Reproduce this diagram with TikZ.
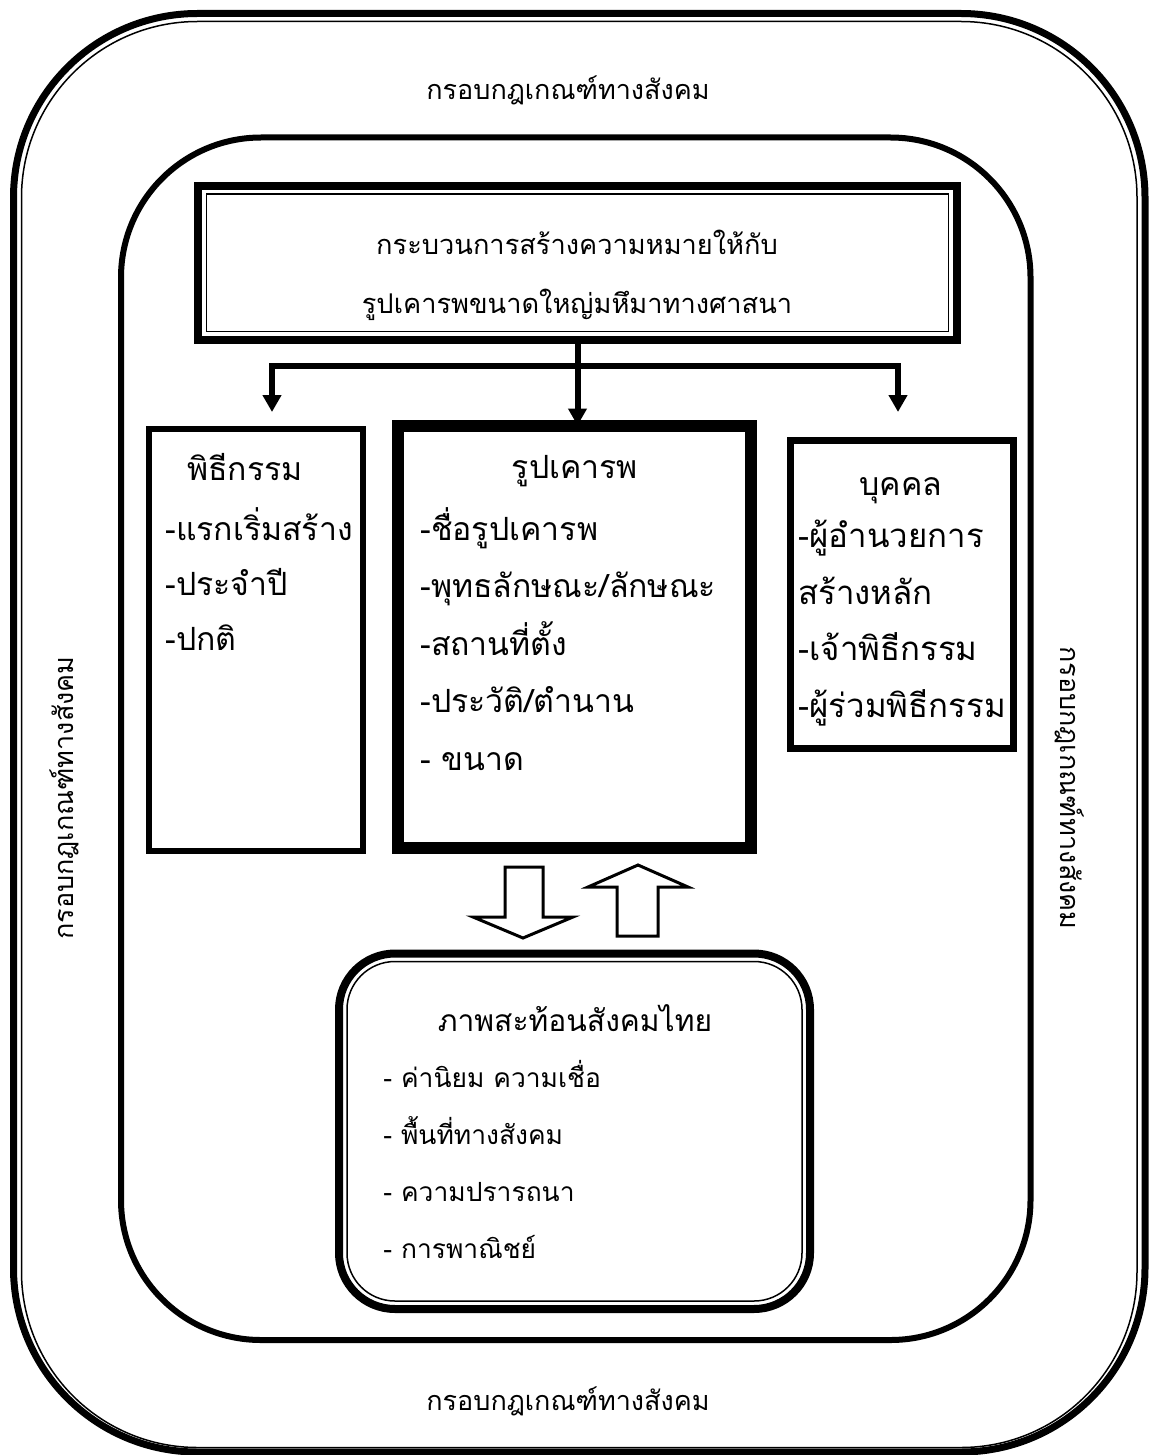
\documentclass[tikz,border=0pt]{standalone}
\usepackage{fontspec}
\setmainfont[Script=Thai]{Loma}
\usetikzlibrary{arrows.meta,positioning,calc}

\tikzset{
  box/.style={draw,line width=3pt,inner sep=0pt,outer sep=0pt},
  thinline/.style={line width=.75pt},
  link/.style={line width=3pt,-{Triangle[width=9pt,length=8.5pt]}},
  blockarrow/.style={draw,line width=1.5pt,fill=white},
  head/.style={font=\fontsize{16}{28.5}\selectfont,inner sep=0pt,anchor=base},
  framelabel/.style={font=\fontsize{13.5}{20}\selectfont,inner sep=0pt},
  list/.style={font=\fontsize{16}{28.5}\selectfont,align=left,inner sep=0pt,anchor=base west},
}

\begin{document}
\begin{tikzpicture}[x=0.5pt,y=-0.5pt]
  \useasboundingbox (0,0) rectangle (1151,1455);
  % outer frame, thick and thin
  \draw[line width=3.5pt,rounded corners=92pt] (13.5,13.5) rectangle (1145,1452);
  \draw[thinline,rounded corners=88pt] (21.5,21.5) rectangle (1137,1447.5);
  % inner frame
  \draw[line width=3pt,rounded corners=70pt] (121,137.5) rectangle (1030.5,1340);

  \node[framelabel,anchor=base] (toplabel) at (568,100) {กรอบกฎเกณฑ์ทางสังคม};
  \node[framelabel,anchor=base] (bottomlabel) at (568,1410) {กรอบกฎเกณฑ์ทางสังคม};
  \node[framelabel,rotate=90] (leftlabel) at (64,798) {กรอบกฎเกณฑ์ทางสังคม};
  \node[framelabel,rotate=-90] (rightlabel) at (1070,788) {กรอบกฎเกณฑ์ทางสังคม};

  % title box
  \node[box,line width=4pt,minimum width=379.5pt,minimum height=76.75pt] (title) at (577.5,262.75) {};
  \draw[thinline] ([shift={(8.5,8)}]title.north west) rectangle ([shift={(-8.5,-8)}]title.south east);
  \node[head,align=center,font=\fontsize{13.6}{29}\selectfont] (titletext) at (577,313) {กระบวนการสร้างความหมายให้กับ\\รูปเคารพขนาดใหญ่มหึมาทางศาสนา};

  % three boxes
  \node[box,minimum width=106.75pt,minimum height=210.75pt] (ritual) at (255.75,639.75) {};
  \node[box,line width=6pt,minimum width=176.75pt,minimum height=211.25pt] (image) at (574.25,636.75) {};
  \node[box,line width=3.5pt,minimum width=111.5pt,minimum height=154pt] (person) at (902,594.5) {};

  \node[head] (rituhead) at (245,480) {พิธีกรรม};
  \node[list,font=\fontsize{16}{27.5}\selectfont] (ritulist) at (165,650) {-แรกเริ่มสร้าง\\-ประจำปี\\-ปกติ};
  \node[head] (imagehead) at (575,478) {รูปเคารพ};
  \node[list,font=\fontsize{16}{28.75}\selectfont] (imagelist) at (420,770) {-ชื่อรูปเคารพ\\-พุทธลักษณะ/ลักษณะ\\-สถานที่ตั้ง\\-ประวัติ/ตำนาน\\- ขนาด};
  \node[head] (personhead) at (901,495) {บุคคล};
  \node[list,font=\fontsize{16.5}{28.2}\selectfont] (personlist) at (798,717) {-ผู้อำนวยการ\\สร้างหลัก\\-เจ้าพิธีกรรม\\-ผู้ร่วมพิธีกรรม};

  % connectors
  \coordinate (fork) at (578,366);
  \coordinate (lefttip) at (272,412);
  \coordinate (righttip) at (898,412);
  \draw[link] (title.south) -- (title.south |- image.north);
  \draw[link] (fork) -| (lefttip);
  \draw[link] (fork) -| (righttip);

  % reflection box
  \node[box,line width=4pt,rounded corners=28pt,minimum width=235.5pt,minimum height=177.75pt] (reflect) at (574.5,1131.25) {};
  \node[box,thinline,rounded corners=24pt,minimum width=227.5pt,minimum height=169.75pt] (reflectin) at (reflect) {};
  \node[head,font=\fontsize{15}{28.5}\selectfont] (reflecthead) at (575,1031) {ภาพสะท้อนสังคมไทย};
  \node[list,font=\fontsize{13.2}{28.5}\selectfont] (reflectlist) at (383,1258) {- ค่านิยม ความเชื่อ\\- พื้นที่ทางสังคม\\- ความปรารถนา\\- การพาณิชย์};

  % block arrows
  \draw[blockarrow] (505,867) -- (543,867) -- (543,917) -- (573,917) -- (523,938) -- (473,917) -- (505,917) -- cycle;
  \draw[blockarrow] (617,936) -- (617,887) -- (588,887) -- (638,865) -- (688,887) -- (658,887) -- (658,936) -- cycle;
\end{tikzpicture}
\end{document}
